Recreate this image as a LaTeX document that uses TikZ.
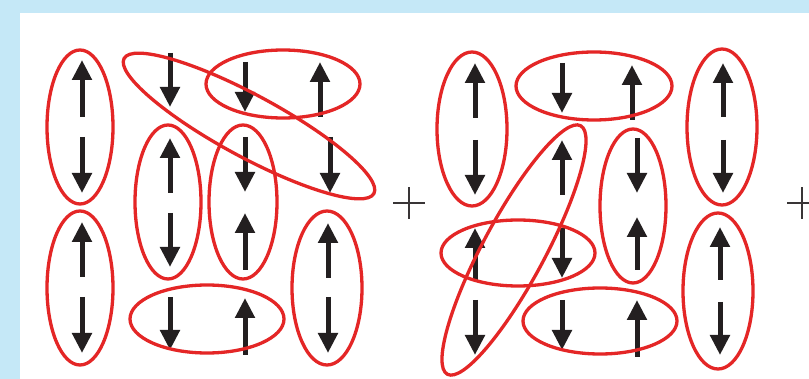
\documentclass[tikz,border=0pt]{standalone}
\usetikzlibrary{shapes.geometric,arrows.meta}
\definecolor{bgblue}{RGB}{197,232,247}
\definecolor{pairred}{RGB}{228,38,38}
\definecolor{spinblack}{RGB}{35,31,32}
\tikzset{
  pair/.style={draw=pairred, line width=3.3pt, ellipse, inner sep=0pt, fill=none},
  spin/.style={draw=spinblack, line width=5pt, -{Triangle[length=20pt,width=19pt]}},
  plussign/.style={draw=spinblack!90, line width=2.8pt}
}
\begin{document}
\begin{tikzpicture}[x=1pt,y=-1pt]
\useasboundingbox (0,0) rectangle (809,379);
\fill[bgblue] (0,0) rectangle (809,379);
\fill[white] (20,13) rectangle (809,379);
% ---------- left grid spins ----------
\draw[spin] (82,117) -- (82,60);
\draw[spin] (82,137) -- (82,193);
\draw[spin] (82,277) -- (82,222);
\draw[spin] (82,297) -- (82,353);
\draw[spin] (170,53) -- (170,107);
\draw[spin] (170,193) -- (170,138);
\draw[spin] (170,213) -- (170,267);
\draw[spin] (170,297) -- (170,350);
\draw[spin] (245,62) -- (245,112);
\draw[spin] (245,137) -- (245,192);
\draw[spin] (245,270) -- (245,213);
\draw[spin] (245,355) -- (245,298);
\draw[spin] (320,117) -- (320,62);
\draw[spin] (330,137) -- (330,193);
\draw[spin] (328,278) -- (328,223);
\draw[spin] (328,297) -- (328,353);
% ---------- left grid pairs ----------
\node[pair, minimum width=66pt, minimum height=154pt] (e1) at (80,127) {};
\node[pair, minimum width=66pt, minimum height=154pt] (e2) at (80,288) {};
\node[pair, minimum width=284pt, minimum height=62pt, rotate=-28.4] (e3) at (249,126) {};
\node[pair, minimum width=154pt, minimum height=68pt] (e4) at (283,84) {};
\node[pair, minimum width=66pt, minimum height=154pt] (e5) at (168,202) {};
\node[pair, minimum width=68pt, minimum height=154pt] (e6) at (243,202) {};
\node[pair, minimum width=154pt, minimum height=68pt] (e7) at (207,319) {};
\node[pair, minimum width=70pt, minimum height=154pt] (e8) at (327,288) {};
% ---------- plus signs ----------
\coordinate (p1) at (409,203);
\draw[plussign] ([xshift=-16pt]p1) -- ([xshift=16pt]p1);
\draw[plussign] ([yshift=-16pt]p1) -- ([yshift=16pt]p1);
\coordinate (p2) at (802,203);
\draw[plussign] ([xshift=-15pt]p2) -- ([xshift=15pt]p2);
\draw[plussign] ([yshift=-16pt]p2) -- ([yshift=16pt]p2);
% ---------- right grid spins ----------
\draw[spin] (475,118) -- (475,63);
\draw[spin] (475,140) -- (475,195);
\draw[spin] (475,280) -- (475,228);
\draw[spin] (475,300) -- (475,355);
\draw[spin] (562,63) -- (562,113);
\draw[spin] (562,195) -- (562,140);
\draw[spin] (562,228) -- (562,278);
\draw[spin] (562,300) -- (562,350);
\draw[spin] (632,120) -- (632,65);
\draw[spin] (637,138) -- (637,193);
\draw[spin] (637,270) -- (637,217);
\draw[spin] (637,357) -- (637,300);
\draw[spin] (723,117) -- (723,63);
\draw[spin] (723,140) -- (723,193);
\draw[spin] (720,280) -- (720,227);
\draw[spin] (720,302) -- (720,355);
% ---------- right grid pairs ----------
\node[pair, minimum width=70pt, minimum height=154pt] (f1) at (472,129) {};
\node[pair, minimum width=156pt, minimum height=68pt] (f2) at (594,86) {};
\node[pair, minimum width=70pt, minimum height=156pt] (f3) at (722,127) {};
\node[pair, minimum width=282pt, minimum height=62pt, rotate=61.8] (f4) at (514,250) {};
\node[pair, minimum width=154pt, minimum height=66pt] (f5) at (518,253) {};
\node[pair, minimum width=66pt, minimum height=154pt] (f6) at (633,206) {};
\node[pair, minimum width=154pt, minimum height=66pt] (f7) at (600,321) {};
\node[pair, minimum width=70pt, minimum height=156pt] (f8) at (718,291) {};
\end{tikzpicture}
\end{document}
